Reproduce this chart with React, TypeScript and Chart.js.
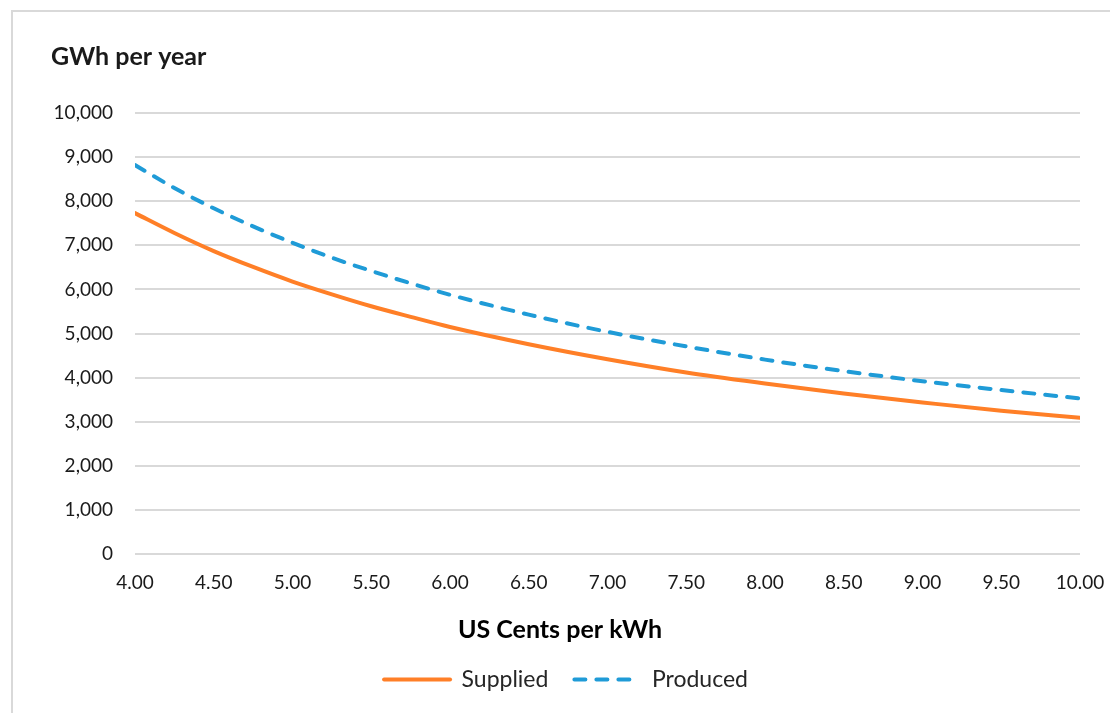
import React, { useEffect, useRef } from "react";
import { Chart, registerables } from "chart.js";

Chart.register(...registerables);

const priceCents = [4.0, 4.25, 4.5, 4.75, 5.0, 5.25, 5.5, 5.75, 6.0, 6.5, 7.0, 7.5, 8.0, 8.5, 9.0, 9.5, 10.0];
const supplied = [7730, 7280, 6870, 6510, 6180, 5890, 5620, 5380, 5150, 4760, 4420, 4120, 3870, 3640, 3440, 3250, 3090];
const produced = [8820, 8300, 7840, 7430, 7060, 6720, 6420, 6140, 5880, 5430, 5040, 4710, 4410, 4150, 3920, 3720, 3530];

const yTitle = "GWh per year";
const xTitle = "US Cents per kWh";
const FONT = "Lato, 'Noto Sans', sans-serif";

export default function App() {
  const ref = useRef<HTMLCanvasElement | null>(null);

  useEffect(() => {
    if (!ref.current) return;
    const titlesPlugin = {
      id: "titlesPlugin",
      afterDraw(chart: any) {
        const ctx = chart.ctx;
        ctx.save();
        ctx.font = `bold 25px ${FONT}`;
        ctx.fillStyle = "#1a1a1a";
        ctx.textAlign = "left";
        ctx.textBaseline = "middle";
        ctx.fillText(yTitle, 51, 57);
        ctx.fillStyle = "#000";
        ctx.textAlign = "center";
        ctx.fillText(xTitle, 560, 630);
        ctx.restore();
      },
    };
    const chart = new Chart(ref.current, {
      type: "line",
      data: {
        datasets: [
          {
            label: "Supplied",
            data: priceCents.map((x, i) => ({ x, y: supplied[i] })),
            borderColor: "#ff7f27",
            backgroundColor: "#ff7f27",
            borderWidth: 4,
            pointRadius: 0,
            pointStyle: "line",
            cubicInterpolationMode: "monotone",
            borderCapStyle: "round",
          },
          {
            label: "Produced",
            data: priceCents.map((x, i) => ({ x, y: produced[i] })),
            borderColor: "#1f9bd7",
            backgroundColor: "#1f9bd7",
            borderWidth: 4,
            borderDash: [11, 11],
            borderCapStyle: "round",
            pointRadius: 0,
            pointStyle: "line",
            cubicInterpolationMode: "monotone",
          },
        ],
      },
      options: {
        animation: false,
        responsive: false,
        layout: { padding: { left: 52, right: 30, top: 113, bottom: 12 } },
        scales: {
          x: {
            type: "linear",
            min: 4,
            max: 10,
            grid: { display: false, drawTicks: false },
            border: { display: false },
            afterFit: (s: any) => {
              s.paddingRight = 0;
              s.paddingLeft = 0;
              s.height += 31;
            },
            ticks: {
              stepSize: 0.5,
              padding: 17,
              color: "#1a1a1a",
              font: { family: FONT, size: 19 },
              callback: (v: any) => Number(v).toFixed(2),
              maxRotation: 0,
            },
            title: { display: false },
          },
          y: {
            min: 0,
            max: 10000,
            grid: { color: "#d9d9d9", lineWidth: 2, drawTicks: false },
            border: { display: false },
            afterFit: (s: any) => {
              s.width = 83;
            },
            ticks: {
              stepSize: 1000,
              padding: 22,
              color: "#1a1a1a",
              font: { family: FONT, size: 19 },
              callback: (v: any) => Number(v).toLocaleString("en-US"),
            },
          },
        },
        plugins: {
          legend: {
            position: "bottom",
            labels: {
              usePointStyle: true,
              pointStyleWidth: 66,
              color: "#262626",
              font: { family: FONT, size: 23 },
              padding: 26,
              generateLabels: (chart: any) => {
                const items = Chart.defaults.plugins.legend.labels.generateLabels(chart);
                return items.map((it: any) => {
                  const ds = chart.data.datasets[it.datasetIndex];
                  return { ...it, lineDash: ds.borderDash || [], lineCap: "round", lineWidth: 4 };
                });
              },
            },
          },
          tooltip: { enabled: false },
        },
      },
      plugins: [titlesPlugin],
    } as any);
    return () => chart.destroy();
  }, []);

  return (
    <div style={{ position: "absolute", left: 0, top: 0, width: 1110, height: 713, background: "#fff", overflow: "hidden" }}>
      <div style={{ position: "absolute", left: 11, top: 10, width: 1120, height: 720, border: "2px solid #d9d9d9", boxSizing: "border-box" }} />
      <canvas ref={ref} width={1110} height={713} style={{ position: "absolute", left: 0, top: 0, display: "block" }} />
    </div>
  );
}
